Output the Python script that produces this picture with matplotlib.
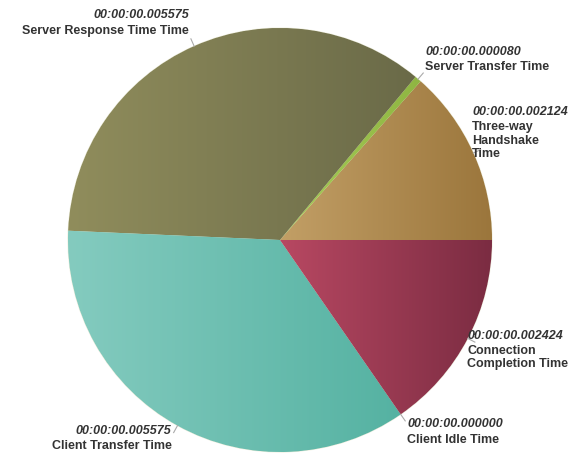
import numpy as np
import matplotlib
matplotlib.use("Agg")
import matplotlib.pyplot as plt
from matplotlib.colors import to_rgb

plt.rcParams['font.family'] = ['Liberation Sans', 'DejaVu Sans']

# tiempos de cada fase (segundos)
fases = ["Three-way\nHandshake\nTime", "Server Transfer Time", "Server Response Time Time",
         "Client Transfer Time", "Client Idle Time", "Connection\nCompletion Time"]
tiempos = [0.002124, 0.000080, 0.005575, 0.005575, 0.000000, 0.002424]
etiquetas = ["00:00:00.002124", "00:00:00.000080", "00:00:00.005575",
             "00:00:00.005575", "00:00:00.000000", "00:00:00.002424"]

# degradado horizontal de cada porcion (izquierda -> derecha)
color_izq = ["#c29f66", "#a8cc58", "#908d5c", "#84cbbf", "#9ccc50", "#b84862"]
color_der = ["#9b763c", "#8fb642", "#6a6a48", "#55b2a2", "#80b040", "#7b2c42"]

W, H = 571, 455
fig = plt.figure(figsize=(W / 100, H / 100), dpi=100)
ax = fig.add_axes([0, 0, 1, 1])
ax.set_xlim(0, W)
ax.set_ylim(0, H)

cx, cy, R = 280, H - 240, 212
wedges, _ = ax.pie(tiempos, center=(cx, cy), radius=R, startangle=0,
                   counterclock=True,
                   wedgeprops=dict(edgecolor="#eeeedd", linewidth=0.8))
ax.set_xlim(0, W)
ax.set_ylim(0, H)
ax.set_aspect("auto")
ax.axis("off")

for w, c1, c2 in zip(wedges, color_izq, color_der):
    w.set_facecolor(c2)
    bb = w.get_path().get_extents(w.get_transform() - ax.transData)
    if bb.width <= 0:
        continue
    t = np.linspace(0, 1, 256)[None, :, None]
    grad = np.array(to_rgb(c1))[None, None, :] * (1 - t) + np.array(to_rgb(c2))[None, None, :] * t
    img = ax.imshow(grad, extent=(bb.x0, bb.x1, bb.y0, bb.y1), aspect="auto",
                    interpolation="bilinear", zorder=w.get_zorder() + 0.1)
    img.set_clip_path(w)
ax.set_xlim(0, W)
ax.set_ylim(0, H)

# etiquetas con conector corto
paso = 15.5
grupos = []
for w, fase, etq in zip(wedges, fases, etiquetas):
    ang = np.deg2rad((w.theta1 + w.theta2) / 2)
    ca, sa = np.cos(ang), np.sin(ang)
    x0, y0 = cx + R * ca, cy + R * sa
    x1, y1 = cx + (R + 8) * ca, cy + (R + 8) * sa
    ax.plot([x0, x1], [y0, y1], color="#aaaaaa", lw=0.8, zorder=5)
    derecha = ca >= 0
    ha = "left" if derecha else "right"
    xt = x1 + (2 if derecha else -2)
    nlin = fase.count("\n") + 2
    alto = nlin * paso
    ytop = y1 + alto / 2 + sa * alto / 2
    t1 = ax.text(xt, ytop, etq, ha=ha, va="top", fontsize=9, fontweight="bold",
                 fontstyle="italic", color="#333333", zorder=6)
    t2 = ax.text(xt, ytop - paso, fase, ha=ha, va="top", fontsize=9, fontweight="bold",
                 color="#333333", linespacing=1.15, zorder=6)
    grupos.append((t1, t2))

# que ninguna etiqueta quede cortada en el borde
fig.canvas.draw()
r = fig.canvas.get_renderer()
for t1, t2 in grupos:
    b1, b2 = t1.get_window_extent(r), t2.get_window_extent(r)
    dx = min(0, W - 3 - max(b1.x1, b2.x1)) + max(0, 3 - min(b1.x0, b2.x0))
    dy = max(0, 3 - min(b1.y0, b2.y0)) + min(0, H - 3 - max(b1.y1, b2.y1))
    for t in (t1, t2):
        x, y = t.get_position()
        t.set_position((x + dx, y + dy))

fig.savefig("out.png", dpi=100)
